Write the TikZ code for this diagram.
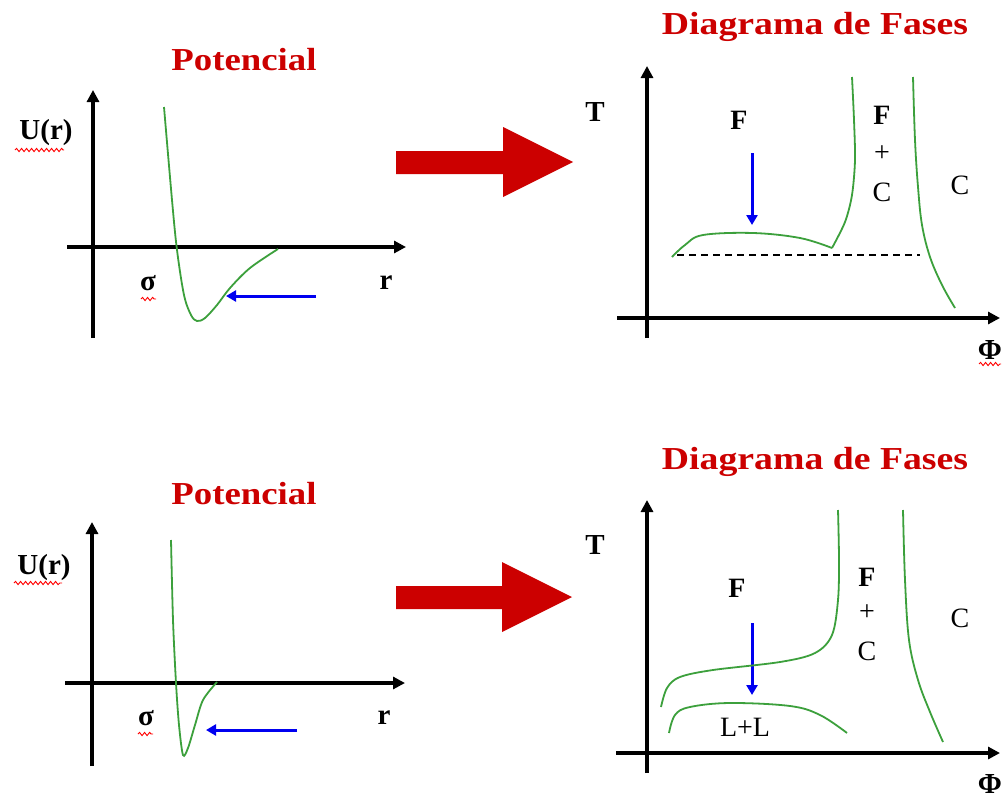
\documentclass[tikz,border=0pt]{standalone}
\usepackage{fontspec}
\usepackage{graphicx}
\setmainfont{Liberation Serif}
\usetikzlibrary{arrows.meta,decorations.pathmorphing}
\definecolor{tred}{RGB}{204,0,0}
\definecolor{cgreen}{RGB}{60,160,60}
\definecolor{ablue}{RGB}{0,0,240}
\tikzset{
  axis/.style={line width=3.6pt,-{Triangle[length=12pt,width=12pt]}},
  curve/.style={cgreen,line width=1.8pt},
  barrow/.style={ablue,line width=3pt,-{Triangle[length=10pt,width=11pt]}},
  title/.style={text=tred,font=\fontsize{32}{36}\selectfont\bfseries,inner sep=0pt},
  lbl/.style={font=\fontsize{29}{32}\selectfont\bfseries,inner sep=0pt},
  plbl/.style={font=\fontsize{28}{30}\selectfont\bfseries,inner sep=0pt},
  rlbl/.style={font=\fontsize{28}{30}\selectfont,inner sep=0pt},
  squig/.style={red,line width=0.9pt,decorate,decoration={snake,amplitude=1.6pt,segment length=5pt}},
  bigarrow/.style={fill=tred,draw=none}
}
\begin{document}
\begin{tikzpicture}[x=1pt,y=-1pt]
\useasboundingbox (0,0) rectangle (1006,798);
\fill[white] (0,0) rectangle (1006,798);

% ================= TOP LEFT: Potencial =================
\node[title] (t1) at (244,60) {\scalebox{1.15}[1]{Potencial}};
\coordinate (ya1) at (93,338); \coordinate (yb1) at (93,90);
\coordinate (xa1) at (67,247); \coordinate (xb1) at (406,247);
\draw[axis] (xa1) -- (xb1);
\draw[axis] (ya1) -- (yb1);
\node[lbl] (u1) at (46,133) {U(r)};
\draw[squig] (15,150) -- (64,150);
\node[lbl] (s1) at (148,283) {σ};
\draw[squig] (141,299) -- (156,299);
\node[lbl] (r1) at (386,283) {r};
\draw[curve] plot[smooth,tension=0.55] coordinates {(164,107) (172,200) (177,250) (184,295) (191,315) (197,321) (205,318) (217,305) (230,288) (250,268) (278,249)};
\coordinate (ba1) at (316,296); \coordinate (bb1) at (226,296);
\draw[barrow] (ba1) -- (bb1);

% big arrow top
\fill[bigarrow] (396,151) -- (503,151) -- (503,127) -- (573,162) -- (503,197) -- (503,174) -- (396,174) -- cycle;

% ================= TOP RIGHT: Diagrama de Fases =================
\node[title] (t2) at (815,27) {\scalebox{1.18}[1]{Diagrama de Fases}};
\coordinate (ya2) at (647,338); \coordinate (yb2) at (647,66);
\coordinate (xa2) at (617,318); \coordinate (xb2) at (1000,318);
\draw[axis] (xa2) -- (xb2);
\draw[axis] (ya2) -- (yb2);
\node[lbl] (T2) at (595,112) {T};
\node[lbl] (p2) at (990,350) {Φ};
\draw[squig] (979,364) -- (1001,364);
\node[plbl] (f2) at (739,120) {F};
\coordinate (ba2) at (752,153); \coordinate (bb2) at (752,225);
\draw[barrow] (ba2) -- (bb2);
\draw[curve] plot[smooth,tension=0.6] coordinates {(672,257) (685,245) (703,235) (753,233) (800,238) (832,248)};
\draw[curve] plot[smooth,tension=0.5] coordinates {(832,248) (845,222) (852,195) (855,160) (854,120) (852,77)};
\draw[curve] plot[smooth,tension=0.6] coordinates {(913,77) (915,140) (918,187) (922,225) (930,257) (942,285) (955,308)};
\draw[line width=1.3pt,dash pattern=on 7pt off 5pt] (677,255) -- (920,255);
\node[plbl] (fa2) at (882,115) {F};
\node[rlbl] (pl2) at (882,154) {+};
\node[rlbl] (ca2) at (882,192) {C};
\node[rlbl] (cb2) at (960,185) {C};

% ================= BOTTOM LEFT: Potencial =================
\node[title] (t3) at (244,494) {\scalebox{1.15}[1]{Potencial}};
\coordinate (ya3) at (92,766); \coordinate (yb3) at (92,522);
\coordinate (xa3) at (65,683); \coordinate (xb3) at (405,683);
\draw[axis] (xa3) -- (xb3);
\draw[axis] (ya3) -- (yb3);
\node[lbl] (u3) at (44,568) {U(r)};
\draw[squig] (14,583) -- (62,583);
\node[lbl] (s3) at (146,718) {σ};
\draw[squig] (138,734) -- (153,734);
\node[lbl] (r3) at (384,718) {r};
\draw[curve] plot[smooth,tension=0.5] coordinates {(171,540) (173,620) (176,683) (179,725) (183,755) (188,748) (195,725) (203,700) (217,682)};
\coordinate (ba3) at (297,730); \coordinate (bb3) at (206,730);
\draw[barrow] (ba3) -- (bb3);

% big arrow bottom
\fill[bigarrow] (396,586) -- (502,586) -- (502,562) -- (572,597) -- (502,632) -- (502,609) -- (396,609) -- cycle;

% ================= BOTTOM RIGHT: Diagrama de Fases =================
\node[title] (t4) at (815,462) {\scalebox{1.18}[1]{Diagrama de Fases}};
\coordinate (ya4) at (647,773); \coordinate (yb4) at (647,500);
\coordinate (xa4) at (616,753); \coordinate (xb4) at (1000,753);
\draw[axis] (xa4) -- (xb4);
\draw[axis] (ya4) -- (yb4);
\node[lbl] (T4) at (595,545) {T};
\node[lbl] (p4) at (990,784) {Φ};
\node[plbl] (f4) at (737,588) {F};
\coordinate (ba4) at (752,623); \coordinate (bb4) at (752,695);
\draw[barrow] (ba4) -- (bb4);
\draw[curve] plot[smooth,tension=0.55] coordinates {(661,707) (667,688) (680,677) (713,670) (780,662) (815,653) (832,635) (838,600) (839,560) (838,510)};
\draw[curve] plot[smooth,tension=0.6] coordinates {(669,733) (675,715) (690,707) (730,703) (790,706) (820,715) (847,733)};
\draw[curve] plot[smooth,tension=0.6] coordinates {(903,510) (905,580) (909,640) (918,680) (930,712) (943,742)};
\node[rlbl] (ll4) at (745,727) {L+L};
\node[plbl] (fa4) at (867,577) {F};
\node[rlbl] (pl4) at (867,613) {+};
\node[rlbl] (ca4) at (867,651) {C};
\node[rlbl] (cb4) at (960,618) {C};
\end{tikzpicture}
\end{document}
